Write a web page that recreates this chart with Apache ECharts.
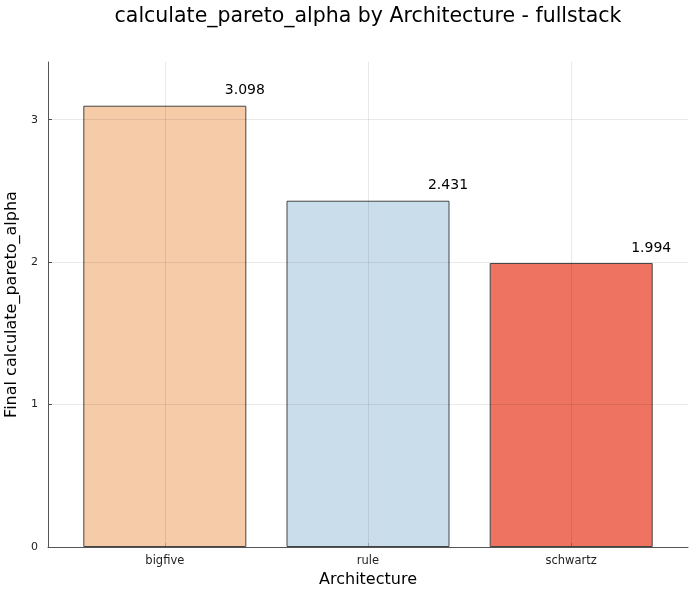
<!DOCTYPE html>
<html>
<head>
<meta charset="utf-8">
<script src="https://cdn.jsdelivr.net/npm/echarts@6/dist/echarts.min.js"></script>
<style>html,body{margin:0;padding:0;background:#fff}#c{width:700px;height:600px}</style>
</head>
<body>
<div id="c"></div>
<script>
const categories = ["bigfive", "rule", "schwartz"];
const values = [3.098, 2.431, 1.994];
const valueLabels = ["3.098", "2.431", "1.994"];
const barColors = ["rgba(242,190,146,0.8)", "rgba(188,212,230,0.8)", "rgba(235,80,58,0.8)"];
const yTicks = [0, 1, 2, 3];
const FONT = "DejaVu Sans";

const chart = echarts.init(document.getElementById('c'), null, {renderer: 'canvas'});
const positions = categories.map((c, i) => i + 1);

chart.setOption({
  animation: false,
  backgroundColor: '#ffffff',
  title: {
    text: 'calculate_pareto_alpha by Architecture - fullstack',
    left: 368, top: 6, padding: 0, textAlign: 'center',
    textStyle: {fontFamily: FONT, fontSize: 20.5, fontWeight: 'normal', color: '#000'}
  },
  grid: {left: 48, right: 12, top: 62, bottom: 53, containLabel: false, outerBoundsMode: 'none'},
  xAxis: {
    type: 'value', min: 0.425, max: 3.575,
    name: 'Architecture', nameLocation: 'middle', nameGap: 25,
    nameTextStyle: {fontFamily: FONT, fontSize: 16, color: '#000'},
    axisLine: {show: true, lineStyle: {color: '#555', width: 1}},
    axisTick: {show: true, inside: true, length: 4, customValues: positions, lineStyle: {color: '#555'}},
    axisLabel: {customValues: positions, fontFamily: FONT, fontSize: 11.5, color: '#222', margin: 8,
      formatter: v => categories[Math.round(v) - 1] || ''},
    splitLine: {show: false}
  },
  yAxis: {
    type: 'value', min: 0, max: 3.405,
    name: 'Final calculate_pareto_alpha', nameLocation: 'middle', nameGap: 24,
    nameTextStyle: {fontFamily: FONT, fontSize: 16, color: '#000'},
    axisLine: {show: true, lineStyle: {color: '#555', width: 1}},
    axisTick: {show: true, inside: true, length: 4, customValues: yTicks, lineStyle: {color: '#555'}},
    axisLabel: {customValues: yTicks, fontFamily: FONT, fontSize: 11, color: '#222', margin: 10,
      formatter: v => String(v)},
    splitLine: {show: false}
  },
  series: [{
    type: 'bar',
    z: 3,
    barWidth: 163,
    data: values.map((v, i) => ({
      value: [positions[i], v],
      itemStyle: {color: barColors[i]},
      label: {formatter: valueLabels[i]}
    })),
    itemStyle: {borderColor: '#444', borderWidth: 1},
    label: {show: true, position: 'top', distance: 8, offset: [80, 0],
      fontFamily: FONT, fontSize: 14, color: '#000'}
  }, {
    type: 'line',
    z: 1,
    data: [],
    markLine: {
      silent: true, symbol: 'none', label: {show: false},
      lineStyle: {color: 'rgba(0,0,0,0.085)', width: 1, type: 'solid'},
      data: positions.map(p => ({xAxis: p})).concat(yTicks.slice(1).map(t => ({yAxis: t})))
    }
  }]
});
</script>
</body>
</html>
